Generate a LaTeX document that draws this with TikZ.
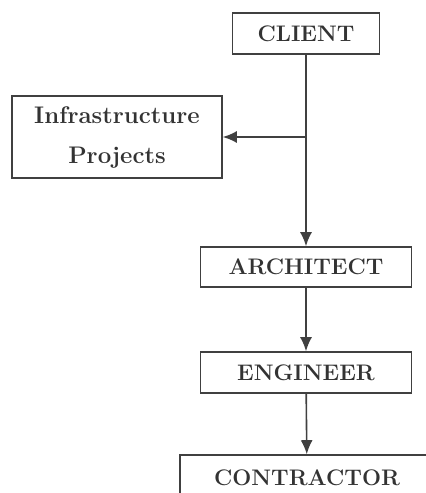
\documentclass[tikz,border=0pt]{standalone}
\usepackage{fontspec}
\usetikzlibrary{arrows.meta}
\begin{document}
\begin{tikzpicture}[
      x=1pt,y=-1pt,
      >={Latex[length=14pt,width=12pt]},
      box/.style={
        draw=black!75,line width=1.6pt,text=black!80,
        font=\fontsize{22.5}{40}\selectfont\bfseries,
        inner sep=0pt,align=center
      },
      link/.style={draw=black!75,line width=1.6pt,->},
    ]
    \clip (0,0) rectangle (426,493);
    \node[box,minimum width=147,minimum height=41] (client) at (306,33.5) {CLIENT};
    \node[box,minimum width=210,minimum height=82,font=\fontsize{24}{40}\selectfont\bfseries] (infra) at (117,137) {Infrastructure\\Projects};
    \node[box,minimum width=211,minimum height=40] (architect) at (306,267) {ARCHITECT};
    \node[box,minimum width=211,minimum height=41] (engineer) at (306,372.5) {ENGINEER};
    \node[box,minimum width=254,minimum height=46] (contractor) at (307,478) {CONTRACTOR};
    \coordinate (branch) at (client.south |- infra.east);
    \draw[link] (client) -- (architect);
    \draw[link] (branch) -- (infra.east);
    \draw[link] (architect) -- (engineer);
    \draw[link] (engineer) -- (contractor);
  \end{tikzpicture}
\end{document}
